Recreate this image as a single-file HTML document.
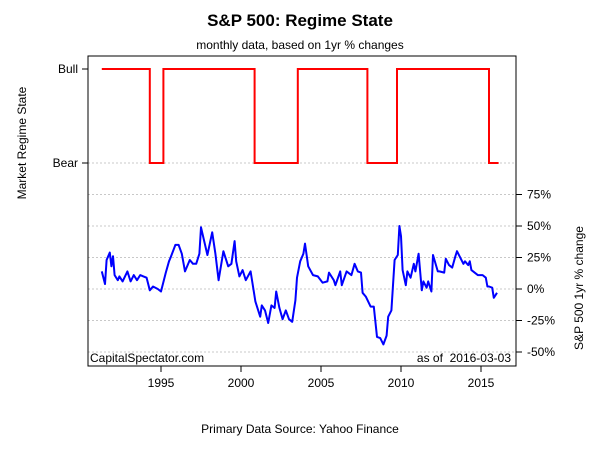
<!DOCTYPE html>
<html><head><meta charset="utf-8"><style>
body{margin:0;background:#fff;}
svg{display:block;font-family:"Liberation Sans",Arial,sans-serif;}
</style></head><body>
<svg id="chart" width="600" height="450" viewBox="0 0 600 450" xmlns="http://www.w3.org/2000/svg">
<text x="300" y="26" text-anchor="middle" font-size="17" font-weight="bold">S&amp;P 500: Regime State</text>
<text x="300" y="49" text-anchor="middle" font-size="12">monthly data, based on 1yr % changes</text>
<text transform="translate(26,143) rotate(-90)" text-anchor="middle" font-size="12">Market Regime State</text>
<text transform="translate(583,288) rotate(-90)" text-anchor="middle" font-size="12">S&amp;P 500 1yr % change</text>
<text x="300" y="433" text-anchor="middle" font-size="12">Primary Data Source: Yahoo Finance</text>
<g id="grid"></g><g id="axes"></g><g id="marks"></g>
<text x="90" y="362" font-size="12">CapitalSpectator.com</text>
<text x="511" y="362" text-anchor="end" font-size="12">as of&#160; 2016-03-03</text>
<rect x="88" y="56" width="428" height="310" fill="none" stroke="#000" stroke-width="1"/>
</svg>
<script>
const years=[1991.3,1991.5,1991.6,1991.8,1991.9,1992.0,1992.1,1992.3,1992.4,1992.6,1992.9,1993.1,1993.3,1993.5,1993.7,1993.9,1994.1,1994.3,1994.5,1994.8,1995.0,1995.3,1995.5,1995.6,1995.9,1996.1,1996.3,1996.5,1996.8,1997.0,1997.2,1997.4,1997.5,1997.7,1997.9,1998.2,1998.4,1998.6,1998.9,1999.2,1999.4,1999.6,1999.7,1999.9,2000.1,2000.3,2000.6,2000.8,2000.9,2001.2,2001.3,2001.5,2001.7,2001.9,2002.1,2002.2,2002.4,2002.6,2002.8,2003.0,2003.2,2003.4,2003.5,2003.7,2003.9,2004.0,2004.2,2004.5,2004.8,2005.1,2005.4,2005.5,2005.8,2005.9,2006.2,2006.3,2006.6,2006.9,2007.1,2007.3,2007.5,2007.6,2007.8,2008.1,2008.3,2008.5,2008.7,2008.9,2009.1,2009.2,2009.4,2009.6,2009.8,2009.9,2010.0,2010.1,2010.3,2010.4,2010.6,2010.8,2010.9,2011.1,2011.3,2011.4,2011.6,2011.7,2011.9,2012.0,2012.3,2012.4,2012.7,2012.8,2013.0,2013.2,2013.4,2013.5,2013.9,2014.0,2014.2,2014.3,2014.4,2014.6,2014.8,2015.1,2015.3,2015.4,2015.5,2015.7,2015.8,2016.0,2016.1];
const changes=[14,4,23,29,18,26,11,7,10,6,14,6,11,7,11,10,9,-1,2,0,-2,13,22,25,35,35,28,14,23,20,20,28,49,38,27,45,28,7,30,18,20,38,22,10,15,7,14,-2,-10,-22,-13,-17,-27,-13,-15,-2,-15,-24,-17,-24,-26,-9,9,22,28,36,18,11,10,5,6,13,7,3,14,3,14,11,20,14,13,-3,-6,-14,-14,-38,-39,-44,-37,-22,-17,23,27,50,42,15,3,14,9,20,14,28,-1,6,1,6,-2,27,14,14,13,24,19,17,26,30,20,22,19,22,15,13,11,11,9,2,2,1,-7,-3];
const regimeStarts=[1991.3,1994.3,1995.15,2000.85,2003.55,2007.9,2009.75,2015.5];
const regimeEnds=[1994.3,1995.15,2000.85,2003.55,2007.9,2009.75,2015.5,2016.1];
const regimeStates=[1,0,1,0,1,0,1,0];
const pctTicks=[-50,-25,0,25,50,75];
const pctLabels=["-50%","-25%","0%","25%","50%","75%"];
const yearTicks=[1995,2000,2005,2010,2015];
const NS="http://www.w3.org/2000/svg";
const xS=y=>161+(y-1995)*16;
const pS=v=>289-v*31.5/25;
const rS=s=>s?69:163;
const grid=document.getElementById('grid'),axes=document.getElementById('axes'),marks=document.getElementById('marks');
function mk(tag,attrs,parent){const e=document.createElementNS(NS,tag);for(const k in attrs)e.setAttribute(k,attrs[k]);parent.appendChild(e);return e;}
[163].concat(pctTicks.map(pS)).forEach(y=>{
 const l=mk('line',{x1:88,x2:516,y1:y,y2:y,stroke:'#c8c8c8','stroke-dasharray':'2,2'},grid);
 
 
});
pctTicks.forEach((v,i)=>{
 const t=mk('line',{x1:516,x2:522,y1:pS(v),y2:pS(v),stroke:'#000'},axes);
 
 
 const tx=mk('text',{x:527,y:pS(v)+4,'font-size':12},axes);tx.textContent=pctLabels[i];
 
 
});
[["Bull",1],["Bear",0]].forEach(([n,s])=>{
 const t=mk('line',{x1:82,x2:88,y1:rS(s),y2:rS(s),stroke:'#000'},axes);
 
 
 const tx=mk('text',{x:78,y:rS(s)+4,'font-size':12,'text-anchor':'end'},axes);tx.textContent=n;
 
 
});
yearTicks.forEach(y=>{
 const t=mk('line',{x1:xS(y),x2:xS(y),y1:366,y2:372,stroke:'#000'},axes);
 
 
 const tx=mk('text',{x:xS(y),y:387,'font-size':12,'text-anchor':'middle'},axes);tx.textContent=y;
 
 
});
let rp='';
regimeStarts.forEach((s,i)=>{const y=rS(regimeStates[i]);rp+=(i?'L':'M')+xS(s)+','+y+'L'+xS(regimeEnds[i])+','+y;});
const red=mk('path',{d:rp,fill:'none',stroke:'#ff0000','stroke-width':2},marks);


const bp=years.map((y,i)=>(i?'L':'M')+xS(y).toFixed(1)+','+pS(changes[i]).toFixed(1)).join('');
const blue=mk('path',{d:bp,fill:'none',stroke:'#0000ff','stroke-width':2,'stroke-linejoin':'round'},marks);


</script>
</body></html>
